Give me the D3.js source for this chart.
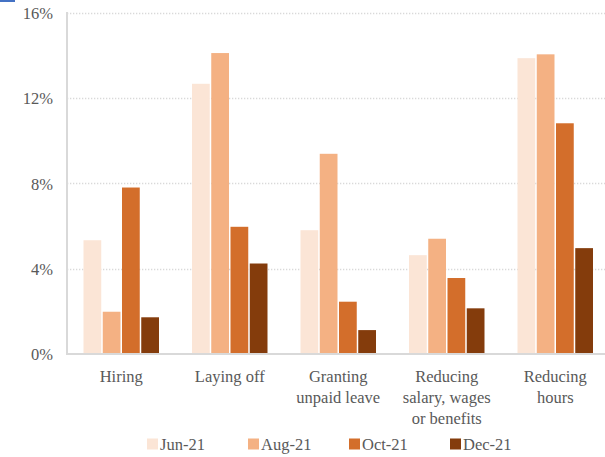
<!DOCTYPE html>
<html>
<head>
<meta charset="utf-8">
<script src="https://cdn.jsdelivr.net/npm/d3@7"></script>
<style>
  body { margin: 0; background: #fff; }
</style>
</head>
<body>
<svg id="chart" width="605" height="457"></svg>
<script>
// categories (multi-line labels) and series
var categories = ['Hiring', 'Laying off', 'Granting unpaid leave', 'Reducing salary, wages or benefits', 'Reducing hours'];
var categoryLines = [['Hiring'], ['Laying off'], ['Granting', 'unpaid leave'], ['Reducing', 'salary, wages', 'or benefits'], ['Reducing', 'hours']];
var seriesNames = ['Jun-21', 'Aug-21', 'Oct-21', 'Dec-21'];
var seriesColors = ['#FBE5D6', '#F4B183', '#D36E2B', '#843C0C'];

// values in percent, one array per series
var jun21 = [5.33, 12.66, 5.80, 4.63, 13.86];
var aug21 = [1.98, 14.10, 9.38, 5.40, 14.04];
var oct21 = [7.80, 5.96, 2.45, 3.56, 10.81];
var dec21 = [1.72, 4.24, 1.12, 2.14, 4.96];
var seriesValues = [jun21, aug21, oct21, dec21];

var yTicks = [0, 4, 8, 12, 16];

var FONT = "'Liberation Serif', 'Times New Roman', serif";
var TEXT_COLOR = '#595959';

var svg = d3.select('#chart');

var plotLeft = 67, plotRight = 609.5, plotTop = 12.5, plotBottom = 354;

var x0 = d3.scaleBand()
  .domain(categories)
  .range([plotLeft, plotRight])
  .padding(0);

var x1 = d3.scaleBand()
  .domain(seriesNames)
  .range([15.75, x0.bandwidth() - 15.75])
  .padding(0);

var y = d3.scaleLinear()
  .domain([0, 16])
  .range([plotBottom, plotTop]);

// small blue mark in top-left corner
svg.append('rect')
  .attr('x', 0).attr('y', 0)
  .attr('width', 15).attr('height', 2)
  .attr('fill', '#4472C4');

// gridlines
svg.append('g')
  .selectAll('line')
  .data(yTicks.filter(function (d) { return d > 0; }))
  .join('line')
  .attr('x1', plotLeft)
  .attr('x2', 605)
  .attr('y1', function (d) { return Math.round(y(d)) + 0.5; })
  .attr('y2', function (d) { return Math.round(y(d)) + 0.5; })
  .attr('stroke', '#d9d9d9')
  .attr('stroke-width', 1.3)
  .attr('stroke-dasharray', '1.3,1.7');

// y axis
var yAxis = d3.axisLeft(y)
  .tickValues(yTicks)
  .tickFormat(function (d) { return d + '%'; })
  .tickSize(0)
  .tickPadding(14);

var yg = svg.append('g')
  .attr('transform', 'translate(' + plotLeft + ',0)')
  .call(yAxis);
yg.select('.domain').remove();
yg.selectAll('text')
  .style('font-family', FONT)
  .style('font-size', '16.5px')
  .attr('fill', TEXT_COLOR)
  .attr('dy', '0.35em');

// bars
var groups = svg.append('g')
  .selectAll('g')
  .data(categories)
  .join('g')
  .attr('transform', function (d) { return 'translate(' + x0(d) + ',0)'; });

groups.selectAll('rect')
  .data(function (d, i) {
    return seriesNames.map(function (s, j) {
      return { series: s, value: seriesValues[j][i], color: seriesColors[j] };
    });
  })
  .join('rect')
  .attr('x', function (d) { return x1(d.series) + 0.75; })
  .attr('width', x1.bandwidth() - 1.5)
  .attr('y', function (d) { return y(d.value); })
  .attr('height', function (d) { return y(0) - y(d.value); })
  .attr('fill', function (d) { return d.color; });

// axis lines
svg.append('line')
  .attr('x1', plotLeft).attr('x2', plotLeft)
  .attr('y1', plotTop - 0.5).attr('y2', plotBottom + 1)
  .attr('stroke', '#d9d9d9').attr('stroke-width', 2);

svg.append('line')
  .attr('x1', plotLeft - 1).attr('x2', 605)
  .attr('y1', plotBottom).attr('y2', plotBottom)
  .attr('stroke', '#d9d9d9').attr('stroke-width', 2);

// category labels
var labels = svg.append('g')
  .selectAll('text')
  .data(categories)
  .join('text')
  .attr('x', function (d) { return x0(d) + x0.bandwidth() / 2; })
  .attr('y', 382)
  .attr('text-anchor', 'middle')
  .style('font-family', FONT)
  .style('font-size', '16.5px')
  .attr('fill', TEXT_COLOR);

labels.selectAll('tspan')
  .data(function (d, i) { return categoryLines[i]; })
  .join('tspan')
  .attr('x', function () { return d3.select(this.parentNode).attr('x'); })
  .attr('dy', function (d, i) { return i === 0 ? 0 : 21; })
  .text(function (d) { return d; });

// legend
var legend = svg.append('g')
  .attr('transform', 'translate(147,444)');

var item = legend.selectAll('g')
  .data(seriesNames)
  .join('g')
  .attr('transform', function (d, i) { return 'translate(' + (i * 101) + ',0)'; });

item.append('rect')
  .attr('x', 0).attr('y', -5.5)
  .attr('width', 11).attr('height', 11)
  .attr('fill', function (d, i) { return seriesColors[i]; });

item.append('text')
  .attr('x', 13)
  .attr('y', 0)
  .attr('dy', '0.35em')
  .style('font-family', FONT)
  .style('font-size', '16.5px')
  .attr('fill', TEXT_COLOR)
  .text(function (d) { return d; });
</script>
</body>
</html>
